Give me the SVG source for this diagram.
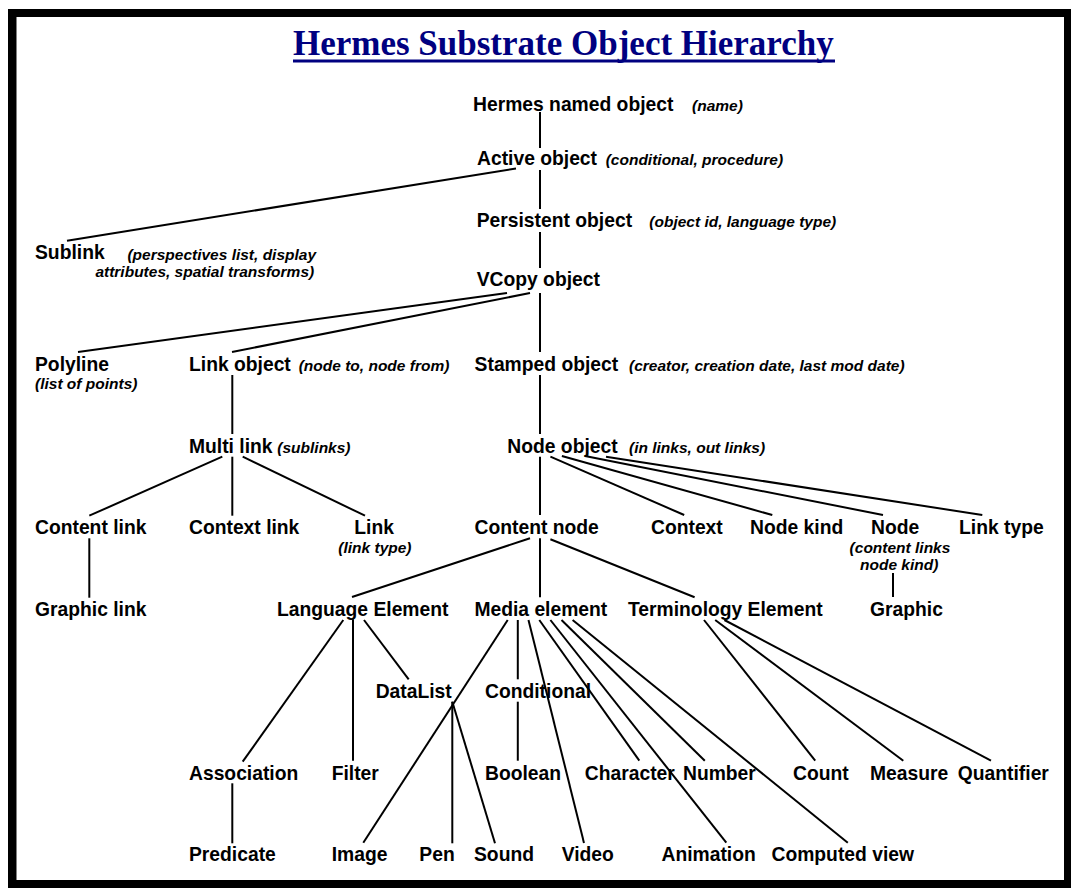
<svg xmlns="http://www.w3.org/2000/svg" width="1071" height="888" viewBox="0 0 1071 888">
<style>
.n{font-family:"Liberation Sans",Arial,sans-serif;font-weight:bold;font-size:19.3px;fill:#000}
.a{font-family:"Liberation Sans",Arial,sans-serif;font-weight:bold;font-style:italic;font-size:15.5px;fill:#000}
.t{font-family:"Liberation Serif","Times New Roman",serif;font-weight:bold;font-size:35px;fill:#000080}
#connectors line{stroke:#000;stroke-width:2;fill:none}
</style>
<rect x="8" y="9" width="1063" height="879" fill="#000"/>
<rect x="16.5" y="17" width="1047.5" height="863" fill="#fff"/>
<g id="title">
<text class="t" x="293" y="55">Hermes Substrate Object Hierarchy</text>
<rect x="293" y="59.5" width="542" height="3" fill="#000080"/>
</g>
<g id="connectors">
<line x1="540" y1="112" x2="540" y2="148"/>
<line x1="540" y1="170" x2="540" y2="209"/>
<line x1="540" y1="232" x2="540" y2="268"/>
<line x1="516" y1="168.5" x2="67" y2="240.7"/>
<line x1="507" y1="293" x2="78" y2="352"/>
<line x1="530" y1="293" x2="232" y2="352"/>
<line x1="540" y1="293" x2="540" y2="352"/>
<line x1="540" y1="375" x2="540" y2="434"/>
<line x1="232.3" y1="375" x2="232.3" y2="434"/>
<line x1="222.3" y1="456.7" x2="89.3" y2="515.7"/>
<line x1="232.3" y1="456.7" x2="232.3" y2="515.7"/>
<line x1="242.7" y1="456.7" x2="365" y2="515.7"/>
<line x1="89.3" y1="538.3" x2="89.3" y2="597.7"/>
<line x1="540" y1="456.7" x2="540" y2="515"/>
<line x1="550.4" y1="456.7" x2="684.2" y2="515"/>
<line x1="561.9" y1="456" x2="772.3" y2="515"/>
<line x1="585" y1="456" x2="883" y2="515"/>
<line x1="606" y1="456.7" x2="982.3" y2="515"/>
<line x1="893" y1="573" x2="893" y2="597"/>
<line x1="530" y1="538.3" x2="352" y2="597"/>
<line x1="540" y1="538.3" x2="540" y2="597.3"/>
<line x1="550.4" y1="539.3" x2="694.6" y2="597.3"/>
<line x1="343.3" y1="620" x2="242.7" y2="761.7"/>
<line x1="353" y1="619.3" x2="353" y2="760.7"/>
<line x1="364" y1="620" x2="408.7" y2="679.3"/>
<line x1="507.7" y1="620" x2="363.3" y2="842.7"/>
<line x1="452.3" y1="701.7" x2="452.3" y2="843.3"/>
<line x1="452.3" y1="701.7" x2="495" y2="843.3"/>
<line x1="517.8" y1="620" x2="517.8" y2="679.3"/>
<line x1="517.8" y1="701.7" x2="517.8" y2="760.7"/>
<line x1="528.5" y1="620" x2="584" y2="843"/>
<line x1="539.3" y1="620" x2="639.3" y2="760.7"/>
<line x1="550.4" y1="620" x2="726.3" y2="842.7"/>
<line x1="561.5" y1="620" x2="704.8" y2="760.7"/>
<line x1="572.6" y1="620" x2="847.8" y2="842.7"/>
<line x1="704" y1="620" x2="815.2" y2="760.7"/>
<line x1="715.2" y1="620" x2="903.3" y2="760.7"/>
<line x1="724.4" y1="620" x2="991" y2="760.7"/>
<line x1="232.3" y1="783.3" x2="232.3" y2="843.3"/>
</g>
<g id="hermes-named-object"><text class="n" x="473" y="111">Hermes named object</text><text class="a" x="692" y="111">(name)</text></g>
<g id="active-object"><text class="n" x="477" y="165">Active object</text><text class="a" x="605.7" y="165">(conditional, procedure)</text></g>
<g id="persistent-object"><text class="n" x="476.7" y="227">Persistent object</text><text class="a" x="649.3" y="227">(object id, language type)</text></g>
<g id="vcopy-object"><text class="n" x="476.7" y="286">VCopy object</text></g>
<g id="sublink"><text class="n" x="35" y="259">Sublink</text><text class="a" x="127.4" y="260">(perspectives list, display</text><text class="a" x="95.4" y="277">attributes, spatial transforms)</text></g>
<g id="polyline"><text class="n" x="35" y="371">Polyline</text><text class="a" x="35" y="389">(list of points)</text></g>
<g id="link-object"><text class="n" x="189" y="371">Link object</text><text class="a" x="298.7" y="371">(node to, node from)</text></g>
<g id="stamped-object"><text class="n" x="474.6" y="371">Stamped object</text><text class="a" x="629" y="371">(creator, creation date, last mod date)</text></g>
<g id="multi-link"><text class="n" x="189" y="452.7">Multi link</text><text class="a" x="277.3" y="452.7">(sublinks)</text></g>
<g id="node-object"><text class="n" x="507.3" y="452.7">Node object</text><text class="a" x="629" y="452.7">(in links, out links)</text></g>
<g id="content-link"><text class="n" x="35" y="534">Content link</text></g>
<g id="context-link"><text class="n" x="189" y="534">Context link</text></g>
<g id="link"><text class="n" x="354.3" y="534">Link</text><text class="a" x="338.3" y="552.7">(link type)</text></g>
<g id="content-node"><text class="n" x="474.6" y="534">Content node</text></g>
<g id="context"><text class="n" x="651" y="534">Context</text></g>
<g id="node-kind"><text class="n" x="750" y="534">Node kind</text></g>
<g id="node"><text class="n" x="871" y="534">Node</text><text class="a" x="849.6" y="553.3">(content links</text><text class="a" x="860" y="570">node kind)</text></g>
<g id="link-type"><text class="n" x="959" y="534">Link type</text></g>
<g id="graphic-link"><text class="n" x="35" y="616">Graphic link</text></g>
<g id="language-element"><text class="n" x="277" y="616">Language Element</text></g>
<g id="media-element"><text class="n" x="474.4" y="616">Media element</text></g>
<g id="terminology-element"><text class="n" x="628" y="616">Terminology Element</text></g>
<g id="graphic"><text class="n" x="870" y="616">Graphic</text></g>
<g id="datalist"><text class="n" x="375.7" y="698">DataList</text></g>
<g id="conditional"><text class="n" x="485" y="698">Conditional</text></g>
<g id="association"><text class="n" x="189" y="780">Association</text></g>
<g id="filter"><text class="n" x="331.7" y="780">Filter</text></g>
<g id="boolean"><text class="n" x="485" y="780">Boolean</text></g>
<g id="character"><text class="n" x="584.8" y="780">Character</text></g>
<g id="number"><text class="n" x="683" y="780">Number</text></g>
<g id="count"><text class="n" x="793" y="780">Count</text></g>
<g id="measure"><text class="n" x="870" y="780">Measure</text></g>
<g id="quantifier"><text class="n" x="957.8" y="780">Quantifier</text></g>
<g id="predicate"><text class="n" x="189" y="861">Predicate</text></g>
<g id="image"><text class="n" x="331.7" y="861">Image</text></g>
<g id="pen"><text class="n" x="419.3" y="861">Pen</text></g>
<g id="sound"><text class="n" x="474" y="861">Sound</text></g>
<g id="video"><text class="n" x="561.7" y="861">Video</text></g>
<g id="animation"><text class="n" x="661.5" y="861">Animation</text></g>
<g id="computed-view"><text class="n" x="771.5" y="861">Computed view</text></g>
</svg>
